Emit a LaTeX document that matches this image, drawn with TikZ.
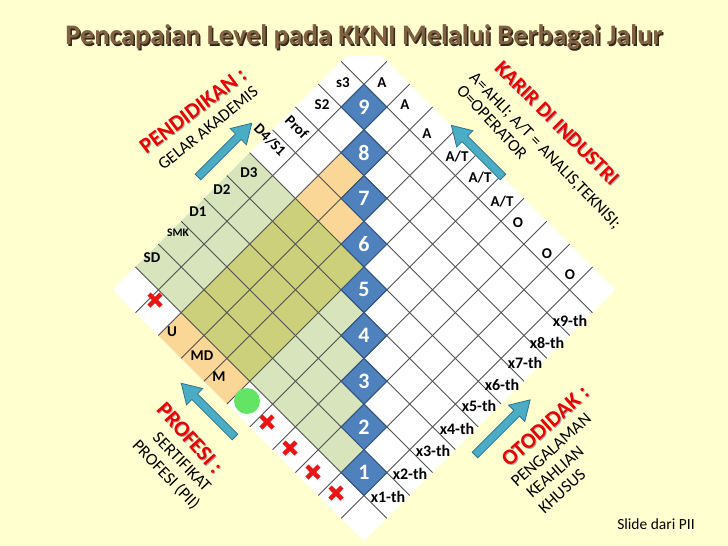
\documentclass[tikz,border=0pt]{standalone}
\usepackage{fontspec}
\setmainfont{Carlito}
\usepackage{graphicx}
\definecolor{bg}{RGB}{255,255,208}
\definecolor{cellgreen}{RGB}{215,228,188}
\definecolor{cellorange}{RGB}{250,215,150}
\definecolor{cellolive}{RGB}{205,208,122}
\definecolor{gridline}{RGB}{80,80,80}
\definecolor{lvlblue}{RGB}{79,129,189}
\definecolor{lvlborder}{RGB}{50,85,130}
\definecolor{arrowfill}{RGB}{75,172,198}
\definecolor{arrowline}{RGB}{45,115,140}
\definecolor{titlebrown}{RGB}{128,98,66}
\definecolor{titleshadow}{RGB}{55,40,28}
\definecolor{crossred}{RGB}{235,20,20}
\definecolor{dotgreen}{RGB}{100,228,100}
\definecolor{redlabel}{RGB}{235,0,0}
\newcommand\headlabel[6]{% name, x, y, angle, size, text
  \node[redshadow, font=\fontsize{#5}{#5}\selectfont\bfseries, rotate=#4] at ({#2+1},{#3+1}) {#6};
  \node[redhead, font=\fontsize{#5}{#5}\selectfont\bfseries, rotate=#4] (#1) at (#2,#3) {#6};}
\newcommand\blkarrow[5]{% name, tail x, tail y, angle, length
  \begin{scope}[shift={(#2,#3)}, rotate=#4]
    \draw[arrowbody] (0,-4) -- ({#5-19},-4) -- ({#5-19},-11.5) -- (#5,0)
      -- ({#5-19},11.5) -- ({#5-19},4) -- (0,4) -- cycle;
    \coordinate (#1) at (#5,0);
  \end{scope}}
\begin{document}
\begin{tikzpicture}[x=1pt,y=-1pt,
  celltext/.style={font=\fontsize{15}{17}\selectfont\bfseries, text=black, inner sep=0pt},
  thtext/.style={font=\fontsize{16}{18}\selectfont\bfseries, text=black, inner sep=0pt},
  lvltext/.style={font=\fontsize{22}{24}\selectfont\bfseries, text=white, inner sep=0pt},
  redhead/.style={text=redlabel, inner sep=0pt},
  redshadow/.style={text=black!35, inner sep=0pt},
  blacksub/.style={font=\fontsize{17}{19}\selectfont, text=black, inner sep=0pt},
  crossmark/.style={crossred, line width=4.5pt},
  arrowbody/.style={draw=arrowline, fill=arrowfill, line width=0.8pt, line join=miter},
  gridstroke/.style={draw=gridline, line width=0.9pt},
  lvlcell/.style={draw=lvlborder, fill=lvlblue, line width=1pt}]
\useasboundingbox (0,0) rectangle (728,546);
\fill[bg] (0,0) rectangle (728,546);

% ---------- rotated grid ----------
\begin{scope}[shift={(364,84.15)}, rotate=-45, x=32.315pt, y=-32.315pt]
  \fill[white] (-1,-1) rectangle (10,10);
  % education band (green)
  \foreach \j in {4,...,8} {
    \pgfmathtruncatemacro\last{\j-1}
    \foreach \i in {-1,...,\last} \fill[cellgreen] (\i,\j) rectangle ++(1,1);
  }
  % profession band (orange)
  \foreach \i/\j in {1/2,1/3,2/3,1/9,2/9,3/9} \fill[cellorange] (\i,\j) rectangle ++(1,1);
  % overlap (olive)
  \foreach \i in {1,2,3} \foreach \j in {4,...,8} \fill[cellolive] (\i,\j) rectangle ++(1,1);
  % grid lines
  \foreach \k in {0,...,9} {
    \draw[gridstroke] (\k,-1) -- (\k,10);
    \draw[gridstroke] (-1,\k) -- (10,\k);
  }
  % level cells
  \foreach \k in {0,...,8} \draw[lvlcell] (\k,\k) rectangle ++(1,1);
\end{scope}

% cover of the grid tip under the title
\fill[bg] (0,0) rectangle (728,56);

% ---------- level numbers ----------
\foreach \k in {1,...,9} {
  \node[lvltext] (lvl\k) at (364,{107+(9-\k)*45.7}) {\k};
}

% ---------- upper left row ----------
\node[celltext] (s3) at (343,83) {s3};
\node[celltext] (s2) at (322,105) {S2};
\node[celltext, rotate=-45] (prof) at (297,127) {Prof};
\node[celltext, rotate=-45] (d4s1) at (270,140) {D4/S1};
\node[celltext] (d3) at (249,173) {D3};
\node[celltext] (d2) at (222,190) {D2};
\node[celltext] (d1) at (198,212) {D1};
\node[font=\fontsize{11.5}{13}\selectfont\bfseries, inner sep=0pt] (smk) at (178,233) {SMK};
\node[celltext] (sd) at (152,258) {SD};

% ---------- upper right row ----------
\node[celltext] (a1) at (382,83) {A};
\node[celltext] (a2) at (405,105) {A};
\node[celltext] (a3) at (427,134) {A};
\node[celltext] (at1) at (457,157) {A/T};
\node[celltext] (at2) at (480,178) {A/T};
\node[celltext] (at3) at (502,202) {A/T};
\node[celltext] (o1) at (518,223) {O};
\node[celltext] (o2) at (547,254) {O};
\node[celltext] (o3) at (570,275) {O};

% ---------- lower right row ----------
\node[thtext] (x9) at (570,321) {x9-th};
\node[thtext] (x8) at (547,343) {x8-th};
\node[thtext] (x7) at (525,363) {x7-th};
\node[thtext] (x6) at (502,385) {x6-th};
\node[thtext] (x5) at (479,406) {x5-th};
\node[thtext] (x4) at (457,429) {x4-th};
\node[thtext] (x3) at (433,451) {x3-th};
\node[thtext] (x2) at (410,474) {x2-th};
\node[thtext] (x1) at (388,497) {x1-th};

% ---------- lower left row ----------
\node[celltext] (u) at (172,332) {U};
\node[celltext] (md) at (202,356) {MD};
\node[celltext] (m) at (219,377) {M};
\fill[dotgreen] (247,401) circle (13);
\foreach \p in {(155,300),(267,422),(290,448),(313,472),(336,493)}
  \draw[crossmark] \p +(-6,-6) -- +(6,6) \p +(-6,6) -- +(6,-6);

% ---------- arrows ----------
\blkarrow{arrowedu}{198}{177}{45}{76}
\blkarrow{arrowind}{503}{177}{135}{73}
\blkarrow{arrowpro}{235}{437}{135}{76}
\blkarrow{arrowoto}{475}{455}{45}{78}

% ---------- side labels ----------
\headlabel{pend}{193}{111}{37}{22}{PENDIDIKAN :}
\node[blacksub, rotate=39] (gelar) at (208,128) {GELAR AKADEMIS};

\headlabel{karir}{557}{123}{-45}{21}{KARIR DI INDUSTRI}
\node[blacksub, rotate=-46] (ahli) at (545,151) {A=AHLI; A/T = ANALIS,TEKNISI;};
\node[blacksub, rotate=-47] (oper) at (492,122) {O=OPERATOR};

\headlabel{prof2}{190}{438}{-48}{22}{PROFESI :}
\node[blacksub, rotate=-46] (sert) at (182,462) {SERTIFIKAT};
\node[blacksub, rotate=-46] (pii) at (166,475) {PROFESI (PII)};

\headlabel{oto}{545}{426}{42}{22}{OTODIDAK :}
\node[blacksub, rotate=42] (peng) at (551,450) {PENGALAMAN};
\node[blacksub, rotate=41] (keah) at (555,472) {KEAHLIAN};
\node[blacksub, rotate=42] (khus) at (562,491) {KHUSUS};

\node[font=\fontsize{15.5}{18}\selectfont, inner sep=0pt] (credit) at (656,524) {Slide dari PII};

% ---------- title ----------
\node[font=\fontsize{29}{34}\selectfont\bfseries, text=titleshadow, inner sep=0pt] at (365.5,38.5)
  {\resizebox{597pt}{!}{Pencapaian Level pada KKNI Melalui Berbagai Jalur}};
\node[font=\fontsize{29}{34}\selectfont\bfseries, text=titlebrown, inner sep=0pt] (title) at (364,37)
  {\resizebox{597pt}{!}{Pencapaian Level pada KKNI Melalui Berbagai Jalur}};
\end{tikzpicture}
\end{document}
